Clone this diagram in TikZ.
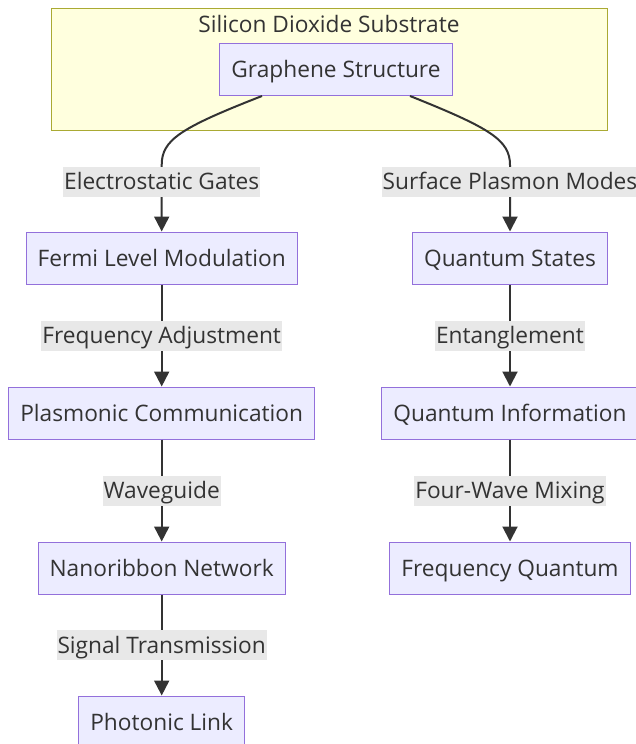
\documentclass[tikz,border=0pt]{standalone}
\usepackage{fontspec}
\setmainfont{Open Sans}
\usetikzlibrary{arrows.meta,positioning}
\definecolor{nodefill}{HTML}{ECECFF}
\definecolor{nodeline}{HTML}{9370DB}
\definecolor{groupfill}{HTML}{FFFFDE}
\definecolor{groupline}{HTML}{AAAA33}
\definecolor{inkgray}{HTML}{333333}
\definecolor{lblfill}{HTML}{E8E8E8}

\begin{document}
\begin{tikzpicture}[
    x=1pt, y=-1pt,
    font=\fontsize{22.7}{27}\selectfont,
    text=inkgray,
    node distance=102pt,
    box/.style={draw=nodeline, fill=nodefill, line width=1pt, minimum height=52pt, inner xsep=11.5pt, text height=16pt, text depth=0pt},
    group/.style={draw=groupline, fill=groupfill, line width=1pt, minimum width=556pt, minimum height=122pt},
    edgelbl/.style={fill=lblfill, inner xsep=1pt, inner ysep=0pt, minimum height=30pt, text height=16pt, text depth=0pt},
    arrow/.style={-{Triangle[length=15pt,width=15pt]}, draw=inkgray, line width=2pt}
]
\useasboundingbox (0,0) rectangle (635,744);
\node[group] (substrate) at (329,69.5) {};
\node[text height=16pt, text depth=0pt] (title) at (329,24) {Silicon Dioxide Substrate};
\node[box] (graphene) at (336,69.5) {Graphene Structure};

% left branch
\node[box] (fermi) at (161.7,258) {Fermi Level Modulation};
\node[box, below=of fermi] (plasmonic) {Plasmonic Communication};
\node[box, below=of plasmonic] (nanoribbon) {Nanoribbon Network};
\node[box, below=101pt of nanoribbon] (photonic) {Photonic Link};

% right branch
\node[box] (qstates) at (510,258) {Quantum States};
\node[box, below=of qstates] (qinfo) {Quantum Information};
\node[box, below=of qinfo] (freqq) {Frequency Quantum};

\coordinate (lbend) at (161.7,165);
\coordinate (rbend) at (510,165);

\draw[arrow] (262,96) .. controls (180,128) and (161.7,140) .. (lbend)
    -- node[edgelbl, pos=0.25] {Electrostatic Gates} (fermi);
\draw[arrow] (410,96) .. controls (490,128) and (510,140) .. (rbend)
    -- node[edgelbl, pos=0.25] {Surface Plasmon Modes} (qstates);
\draw[arrow] (fermi) -- node[edgelbl] {Frequency Adjustment} (plasmonic);
\draw[arrow] (plasmonic) -- node[edgelbl] {Waveguide} (nanoribbon);
\draw[arrow] (nanoribbon) -- node[edgelbl] {Signal Transmission} (photonic);
\draw[arrow] (qstates) -- node[edgelbl] {Entanglement} (qinfo);
\draw[arrow] (qinfo) -- node[edgelbl] {Four-Wave Mixing} (freqq);
\end{tikzpicture}
\end{document}
